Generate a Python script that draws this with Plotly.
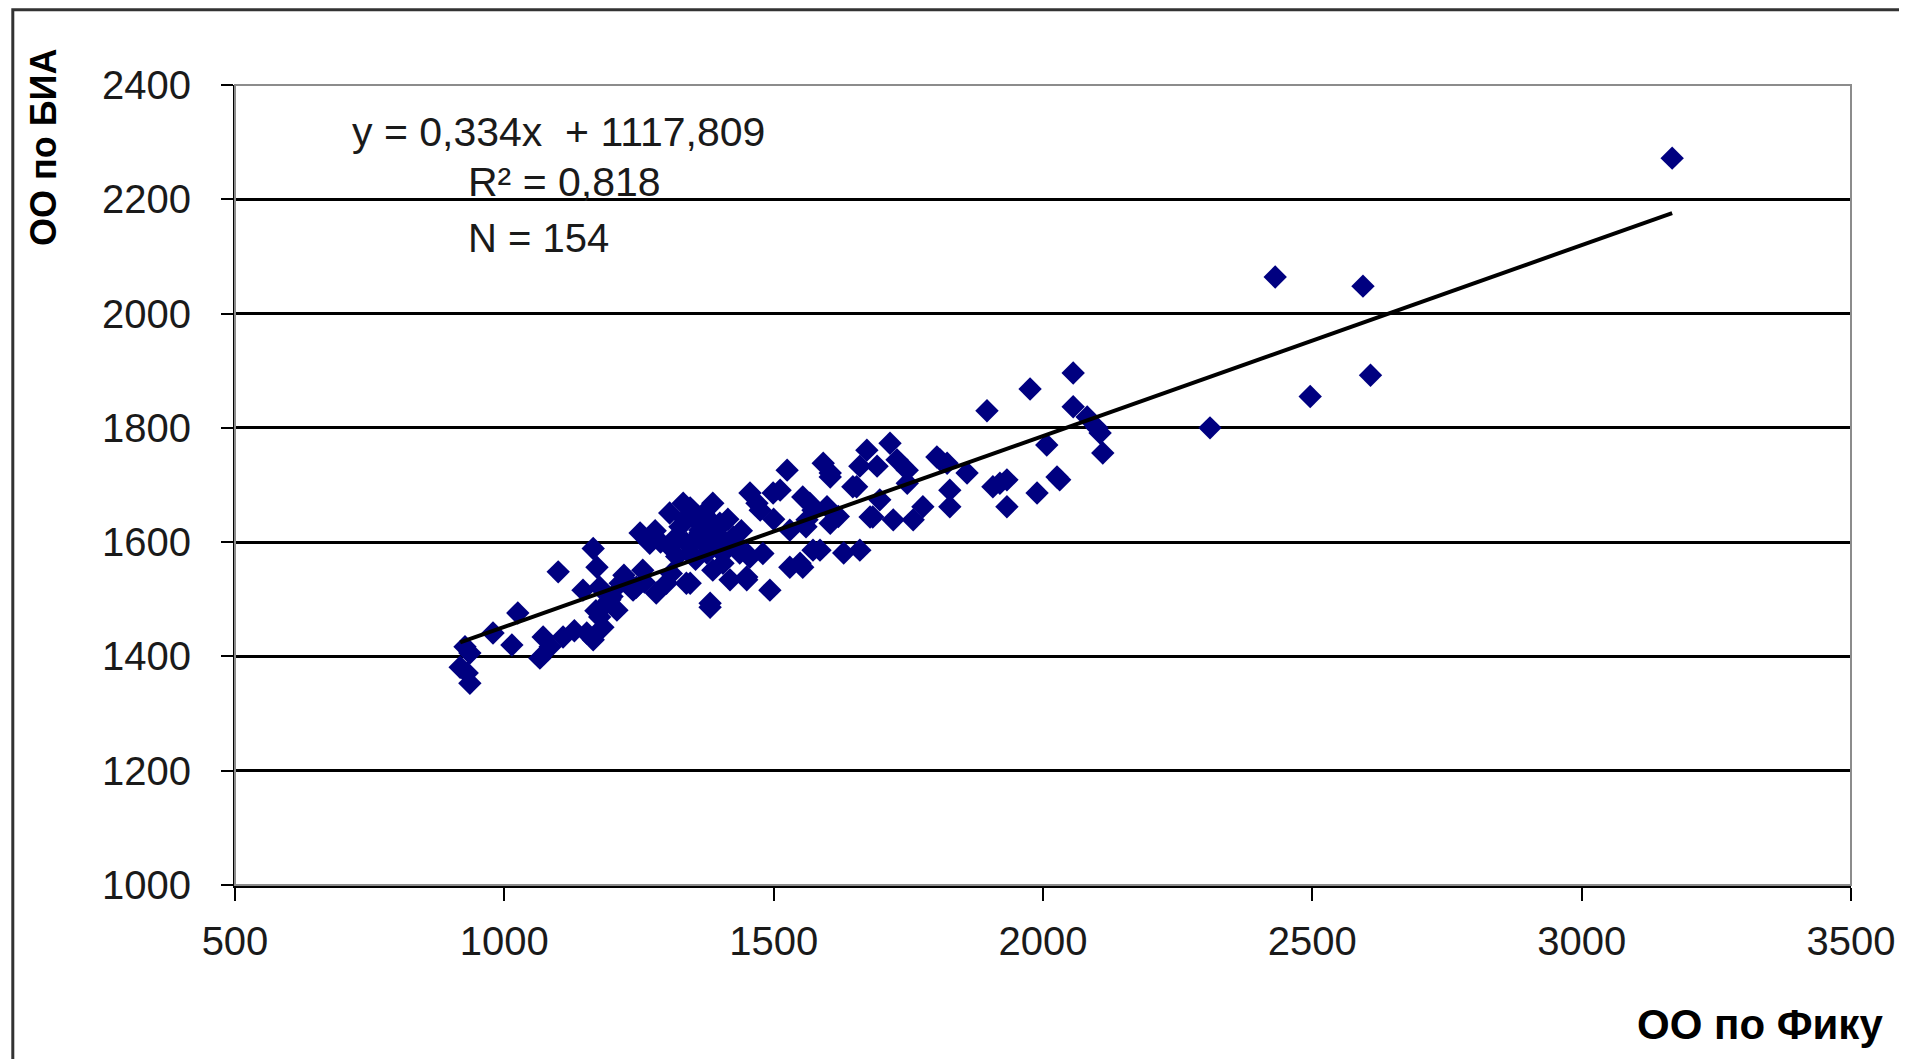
import plotly.graph_objects as go

# Data (ОО по Фику, ОО по БИА)
fick_x = [
    927, 936, 918, 931, 936, 979, 1025, 1014, 1066, 1072,
    1085, 1100, 1109, 1153, 1165, 1183, 1165, 1172, 1146, 1177,
    1190, 1209, 1215, 1239, 1252, 1222, 1196, 1177, 1130, 1257,
    1270, 1245, 1282, 1301, 1307, 1332, 1326, 1350, 1307, 1338,
    1363, 1387, 1400, 1376, 1406, 1338, 1382, 1437, 1450, 1425,
    1456, 1469, 1363, 1400, 1415, 1345, 1376, 1406, 1452, 1475,
    1499, 1525, 1512, 1554, 1573, 1592, 1605, 1530, 1560, 1605,
    1586, 1530, 1549, 1630, 1660, 1647, 1673, 1684, 1456, 1450,
    1493, 1387, 1345, 1382, 1419, 1896, 1716, 1660, 1692, 1729,
    1748, 1803, 1822, 1859, 1654, 1748, 1697, 1827, 1827, 1777,
    1679, 1722, 1759, 1567, 1599, 1562, 1620, 1573, 1554, 1907,
    1976, 2056, 2082, 2100, 2106, 2111, 2007, 1809, 1920, 1933,
    2026, 1989, 2031, 1933, 2056, 2310, 2496, 2608, 2431, 2594,
    3168, 1605, 1320, 1335, 1355, 1370, 1390, 1395, 1410, 1355,
    1320, 1290, 1430, 1440, 1380, 1345, 1280, 1260, 1200, 1170,
    1235, 1500, 1480, 1310,
]
bia_y = [
    1417, 1406, 1381, 1371, 1353, 1441, 1476, 1420, 1397, 1434,
    1417, 1548, 1434, 1441, 1429, 1451, 1589, 1556, 1516, 1521,
    1493, 1481, 1528, 1516, 1616, 1542, 1499, 1469, 1445, 1551,
    1598, 1521, 1511, 1528, 1651, 1668, 1627, 1644, 1592, 1598,
    1616, 1668, 1627, 1581, 1563, 1528, 1486, 1581, 1539, 1609,
    1686, 1668, 1621, 1633, 1640, 1581, 1592, 1581, 1578, 1656,
    1686, 1726, 1691, 1679, 1656, 1738, 1714, 1621, 1627, 1633,
    1586, 1556, 1563, 1581, 1586, 1697, 1761, 1644, 1574, 1534,
    1516, 1551, 1528, 1493, 1534, 1830, 1773, 1733, 1733, 1744,
    1726, 1749, 1738, 1721, 1697, 1703, 1674, 1691, 1662, 1662,
    1644, 1639, 1639, 1668, 1662, 1639, 1645, 1586, 1556, 1697,
    1868, 1837, 1819, 1800, 1791, 1756, 1770, 1744, 1703, 1709,
    1714, 1686, 1709, 1662, 1896, 1800, 1855, 1892, 2064, 2048,
    2272, 1721, 1610, 1640, 1605, 1650, 1610, 1590, 1600, 1570,
    1575, 1600, 1595, 1620, 1640, 1660, 1620, 1530, 1505, 1480,
    1525, 1640, 1580, 1545,
]

# Linear trend (from the chart's equation)
slope = 0.334
intercept = 1117.809
r2_text = "0,818"
n_text = str(len(fick_x))

x_ticks = [500, 1000, 1500, 2000, 2500, 3000, 3500]
y_ticks = [1000, 1200, 1400, 1600, 1800, 2000, 2200, 2400]

FONT = "Liberation Sans, Arial, sans-serif"
TXT = "#1a1a1a"

fig = go.Figure()
fig.add_trace(go.Scatter(
    x=fick_x, y=bia_y, mode="markers",
    marker=dict(symbol="diamond", size=18, color="#000080",
                line=dict(width=0)),
    showlegend=False, hoverinfo="x+y",
))
tx = [min(fick_x), max(fick_x)]
fig.add_trace(go.Scatter(
    x=tx, y=[slope * v + intercept for v in tx], mode="lines",
    line=dict(color="black", width=4), showlegend=False, hoverinfo="skip",
))

fig.update_layout(
    width=1899, height=1051,
    margin=dict(l=227, r=56, t=77, b=174),
    paper_bgcolor="white", plot_bgcolor="white",
    font=dict(family=FONT, size=40, color=TXT),
    xaxis=dict(
        range=[500, 3500], tickvals=x_ticks, ticktext=[str(v) for v in x_ticks],
        showgrid=False, zeroline=False,
        showline=True, linecolor="black", linewidth=3,
        ticks="outside", ticklen=13, tickwidth=2, tickcolor="black",
        ticklabelstandoff=6,
        tickfont=dict(family=FONT, size=40, color=TXT),
    ),
    yaxis=dict(
        range=[1000, 2400], tickvals=y_ticks, ticktext=[str(v) for v in y_ticks],
        showgrid=True, gridcolor="black", gridwidth=2.5, zeroline=False,
        showline=True, linecolor="black", linewidth=2,
        ticks="outside", ticklen=12, tickwidth=2, tickcolor="black",
        ticklabelstandoff=22,
        tickfont=dict(family=FONT, size=40, color=TXT),
    ),
    shapes=[
        # plot-area border (grey, Excel style)
        dict(type="rect", xref="paper", yref="paper", x0=0, y0=0, x1=1, y1=1,
             line=dict(color="#8c8c8c", width=2), layer="above"),
        # chart outer frame
        dict(type="rect", xref="paper", yref="paper",
             x0=-0.1375, y0=-0.25, x1=1.06, y1=1.094,
             line=dict(color="#333333", width=3), layer="below"),
    ],
    annotations=[
        dict(text="y = 0,334x \u00a0+ 1117,809", xref="paper", yref="paper",
             x=0.0712, y=0.941, xanchor="left", yanchor="middle",
             showarrow=False, font=dict(family=FONT, size=41, color=TXT)),
        dict(text="R² = " + r2_text, xref="paper", yref="paper",
             x=0.1429, y=0.879, xanchor="left", yanchor="middle",
             showarrow=False, font=dict(family=FONT, size=41, color=TXT)),
        dict(text="N = " + n_text, xref="paper", yref="paper",
             x=0.1429, y=0.809, xanchor="left", yanchor="middle",
             showarrow=False, font=dict(family=FONT, size=40, color=TXT)),
        dict(text="<b>ОО по БИА</b>", xref="paper", yref="paper",
             x=-0.1188, y=0.9225, xanchor="center", yanchor="middle",
             textangle=-90, showarrow=False,
             font=dict(family=FONT, size=36, color="black")),
        dict(text="<b>ОО по Фику</b>", xref="paper", yref="paper",
             x=1.021, y=-0.174, xanchor="right", yanchor="middle",
             showarrow=False, font=dict(family=FONT, size=42, color="black")),
    ],
)

fig.write_html("out.html")
